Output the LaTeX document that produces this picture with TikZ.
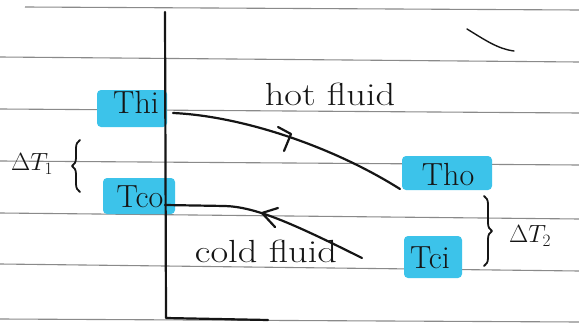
\documentclass[tikz,border=0pt]{standalone}
\usetikzlibrary{decorations.pathreplacing}
\definecolor{hl}{HTML}{3CC3EA}
\definecolor{rule}{HTML}{8A8A8A}
\definecolor{ink}{HTML}{151515}
\begin{document}
\begin{tikzpicture}[x=1pt,y=-1pt,
  ruled/.style={draw=rule,line width=1.1pt},
  pen/.style={draw=ink,line width=2.2pt,line cap=round,line join=round},
  hand/.style={text=ink,font=\fontsize{32}{34}\selectfont,inner sep=0pt},
  wide/.style={hand,xscale=1.2},
  small/.style={text=ink,font=\fontsize{26}{28}\selectfont,inner sep=0pt},
  hilite/.style={fill=hl,rounded corners=4pt}]
\useasboundingbox (0,0) rectangle (579,324);
\fill[white] (0,0) rectangle (579,324);
% ruled paper lines
\draw[ruled] (25,7) -- (579,10);
\draw[ruled] (0,57) -- (579,62);
\draw[ruled] (0,109) -- (579,113);
\draw[ruled] (0,161) -- (579,165);
\draw[ruled] (0,213) -- (579,219);
\draw[ruled] (0,264) -- (579,271);
\draw[ruled] (0,319) -- (579,322);
% highlights
\fill[hilite] (97,90) rectangle (167,127);
\fill[hilite] (103,178) rectangle (175,214);
\fill[hilite] (402,156) rectangle (492,190);
\fill[hilite] (404,236) rectangle (462,278);
% axes
\coordinate (top) at (165,12);
\coordinate (origin) at (166,318);
\coordinate (xend) at (268,320);
\draw[pen] (top) -- (origin) -- (xend);
% labels
\node[hand] (thi) at (136,102) {Thi};
\node[hand] (tco) at (140,197) {Tco};
\node[hand] (tho) at (448,175) {Tho};
\node[hand] (tci) at (430,258) {Tci};
\node[wide] (hot) at (330,94) {hot fluid};
\node[wide] (cold) at (266,251) {cold fluid};
\node[small] (dt1) at (32,164) {$\Delta T_1$};
\node[small] (dt2) at (530,236) {$\Delta T_2$};
% curves
\coordinate (hs) at (173,113);
\coordinate (he) at (400,189);
\coordinate (cs) at (165,205);
\coordinate (ce) at (362,258);
\draw[pen] (hs) .. controls (240,116) and (330,145) .. (he);
\draw[pen] (cs) -- (225,206) .. controls (255,207) and (290,222) .. (ce);
% flow direction marks
\draw[pen] (278,127) -- (291,134) -- (284,151);
\draw[pen] (278,208) -- (262,213) -- (275,227);
% braces
\draw[pen,line width=1.8pt,decorate,decoration={brace,amplitude=8pt}] (80,192) -- (80,140);
\draw[pen,line width=1.8pt,decorate,decoration={brace,amplitude=8pt}] (484,196) -- (484,266);
% stray mark top right
\coordinate (m1) at (467,29);
\coordinate (m2) at (514,51);
\draw[pen,line width=1.4pt] (m1) .. controls (485,40) and (498,49) .. (m2);
\end{tikzpicture}
\end{document}
